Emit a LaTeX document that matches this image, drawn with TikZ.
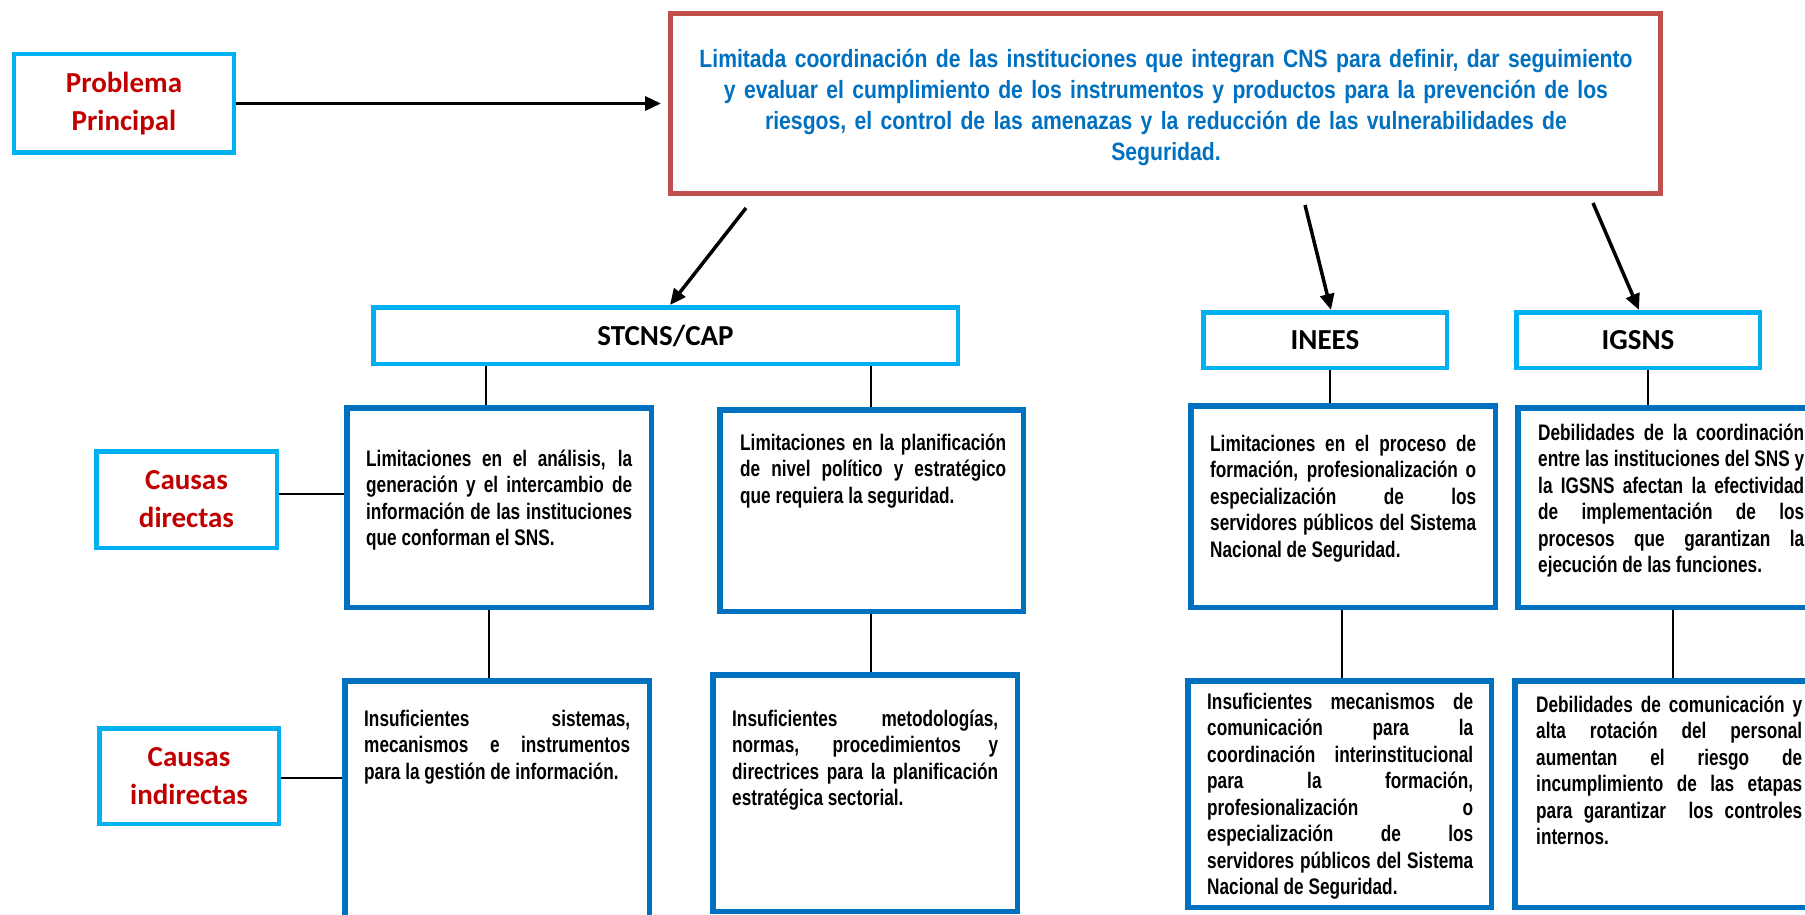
\documentclass[tikz,border=0pt]{standalone}
\usepackage{fontspec}
\setmainfont{Liberation Sans}
\newfontfamily\narrowfont[FakeStretch=0.765]{Liberation Sans}
\newfontfamily\mainnarrow[FakeStretch=0.846]{Liberation Sans}
\newfontfamily\labelfont{Carlito}
\usetikzlibrary{arrows.meta,calc}
\definecolor{cyanb}{HTML}{00B0F0}
\definecolor{darkred}{HTML}{C00000}
\definecolor{redb}{HTML}{C0504D}
\definecolor{blueb}{HTML}{0070C0}
\tolerance=10000
\hyphenpenalty=10000
\exhyphenpenalty=10000
\tikzset{
  lblbox/.style={draw=cyanb, line width=4.5pt, fill=white, inner sep=0pt, align=center,
    font=\labelfont\bfseries\fontsize{29}{38}\selectfont},
  probbox/.style={draw=redb, line width=5pt, inner sep=0pt},
  causebox/.style={draw=blueb, line width=5.5pt, inner sep=0pt},
  bodytext/.style={inner sep=0pt, anchor=base west, text width=266pt, align=justify,
    font=\narrowfont\bfseries\fontsize{22.5}{26.5}\selectfont},
  arrowline/.style={line width=3.5pt, -{Triangle[length=16pt,width=14pt]}},
  thinline/.style={line width=1.3pt},
}
\begin{document}
\begin{tikzpicture}[x=1pt,y=-1pt]
\useasboundingbox (0,0) rectangle (1805,915);
\clip (0,0) rectangle (1805,915);
\fill[white] (0,0) rectangle (1805,915);

% top level
\node[lblbox, minimum width=220pt, minimum height=98.5pt, text=darkred] (prob) at (124,103.5) {Problema\\Principal};
\node[probbox, minimum width=990pt, minimum height=179.5pt] (main) at (1165.5,103.75) {};
\node[inner sep=0pt, anchor=base, text width=990pt, align=center, text=blueb,
  font=\mainnarrow\bfseries\fontsize{25}{30.7}\selectfont] (maintext) at (1166,68)
  {Limitada coordinación de las instituciones que integran CNS para definir, dar seguimiento\\
   y evaluar el cumplimiento de los instrumentos y productos para la prevención de los\\
   riesgos, el control de las amenazas y la reducción de las vulnerabilidades de\\
   Seguridad.};

% institutions
\node[lblbox, minimum width=584.5pt, minimum height=56.5pt] (stcns) at (665.5,335.5) {STCNS/CAP};
\node[lblbox, minimum width=243.5pt, minimum height=55.5pt] (inees) at (1325,340) {INEES};
\node[lblbox, minimum width=243.5pt, minimum height=55.5pt] (igsns) at (1638,340) {IGSNS};

% row labels
\node[lblbox, minimum width=180.5pt, minimum height=96.5pt, text=darkred] (cdir) at (186.5,499.5) {Causas\\directas};
\node[lblbox, minimum width=179.5pt, minimum height=95.5pt, text=darkred] (cind) at (189,776) {Causas\\indirectas};

% direct causes
\node[causebox, minimum width=304.5pt, minimum height=199.5pt] (d1) at (499,507.5) {};
\node[causebox, minimum width=303.5pt, minimum height=201.5pt] (d2) at (871.5,510.5) {};
\node[causebox, minimum width=304.5pt, minimum height=201.5pt] (d3) at (1343,506.5) {};
\node[causebox, minimum width=304.5pt, minimum height=199.5pt] (d4) at (1670,507.5) {};

% indirect causes
\node[causebox, minimum width=304.5pt, minimum height=256.5pt] (i1) at (497,809) {};
\node[causebox, minimum width=304.5pt, minimum height=236.5pt] (i2) at (865,793) {};
\node[causebox, minimum width=303.5pt, minimum height=226.5pt] (i3) at (1339.5,794) {};
\node[causebox, minimum width=304.5pt, minimum height=226.5pt] (i4) at (1667,794) {};

% texts
\node[bodytext] (t1) at (366,466) {Limitaciones en el análisis, la\linebreak generación y el intercambio de\linebreak información de las instituciones\linebreak que conforman el SNS.};
\node[bodytext] (t2) at (740,450) {Limitaciones en la planificación\linebreak de nivel político y estratégico\linebreak que requiera la seguridad.};
\node[bodytext] (t3) at (1210,451) {Limitaciones en el proceso de\linebreak formación, profesionalización o\linebreak especialización de los\linebreak servidores públicos del Sistema\linebreak Nacional de Seguridad.};
\node[bodytext] (t4) at (1538,440) {Debilidades de la coordinación\linebreak entre las instituciones del SNS y\linebreak la IGSNS afectan la efectividad\linebreak de implementación de los\linebreak procesos que garantizan la\linebreak ejecución de las funciones.};
\node[bodytext] (t5) at (364,726) {Insuficientes sistemas,\linebreak mecanismos e instrumentos\linebreak para la gestión de información.};
\node[bodytext] (t6) at (732,726) {Insuficientes metodologías,\linebreak normas, procedimientos y\linebreak directrices para la planificación\linebreak estratégica sectorial.};
\node[bodytext] (t7) at (1207,709) {Insuficientes mecanismos de\linebreak comunicación para la\linebreak coordinación interinstitucional\linebreak para la formación,\linebreak profesionalización o\linebreak especialización de los\linebreak servidores públicos del Sistema\linebreak Nacional de Seguridad.};
\node[bodytext] (t8) at (1536,712) {Debilidades de comunicación y\linebreak alta rotación del personal\linebreak aumentan el riesgo de\linebreak incumplimiento de las etapas\linebreak para garantizar\ \ los controles\linebreak internos.};

% arrow coordinates
\coordinate (a1s) at (746,208);
\coordinate (a1e) at (670,0);
\coordinate (a2s) at (1305,205);
\coordinate (a2e) at (1331,0);
\coordinate (a3s) at (1593,203);
\coordinate (a3e) at (1639,0);

\draw[arrowline, shorten >=7pt] (prob.east) -- (prob.east -| main.west);
\draw[arrowline] (a1s) -- (a1e |- stcns.north);
\draw[arrowline] (a2s) -- (a2e |- inees.north);
\draw[arrowline] (a3s) -- (a3e |- igsns.north);

% thin connector x positions
\coordinate (l1) at (486,0);
\coordinate (l2) at (871,0);
\coordinate (l3) at (1330,0);
\coordinate (l4) at (1648,0);
\coordinate (l5) at (489,0);
\coordinate (l6) at (871,0);
\coordinate (l7) at (1342,0);
\coordinate (l8) at (1673,0);
\coordinate (h1) at (0,494);
\coordinate (h2) at (0,778);

\draw[thinline] (l1 |- stcns.south) -- (l1 |- d1.north);
\draw[thinline] (l2 |- stcns.south) -- (l2 |- d2.north);
\draw[thinline] (l3 |- inees.south) -- (l3 |- d3.north);
\draw[thinline] (l4 |- igsns.south) -- (l4 |- d4.north);
\draw[thinline] (l5 |- d1.south) -- (l5 |- i1.north);
\draw[thinline] (l6 |- d2.south) -- (l6 |- i2.north);
\draw[thinline] (l7 |- d3.south) -- (l7 |- i3.north);
\draw[thinline] (l8 |- d4.south) -- (l8 |- i4.north);
\draw[thinline] (cdir.east |- h1) -- (d1.west |- h1);
\draw[thinline] (cind.east |- h2) -- (i1.west |- h2);
\end{tikzpicture}
\end{document}
